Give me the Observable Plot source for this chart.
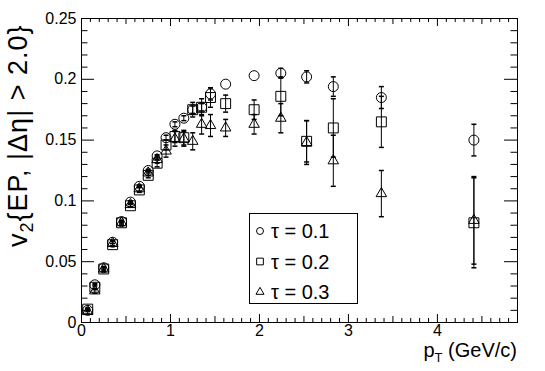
<!DOCTYPE html>
<html><head><meta charset="utf-8">
<script src="https://cdn.jsdelivr.net/npm/d3@7"></script>
<script src="https://cdn.jsdelivr.net/npm/@observablehq/plot@0.6"></script>
<style>
body{margin:0;background:#fff;}
#chart{position:relative;width:545px;height:371px;}
#chart svg{display:block;}
</style>
</head><body><div id="chart"></div>
<script>
// pT bin centres (GeV/c)
const pT = [0.07, 0.15, 0.25, 0.35, 0.45, 0.55, 0.65, 0.75, 0.85, 0.95, 1.05, 1.15, 1.25, 1.35, 1.45, 1.62, 1.94, 2.24, 2.53, 2.83, 3.37, 4.41];
// tau = 0.1 (circles)
const v2Tau01  = [0.010, 0.031, 0.045, 0.066, 0.083, 0.099, 0.112, 0.125, 0.137, 0.152, 0.163, 0.168, 0.175, 0.177, 0.188, 0.196, 0.203, 0.205, 0.202, 0.194, 0.185, 0.150];
const errTau01 = [0.001, 0.001, 0.001, 0.001, 0.001, 0.001, 0.001, 0.001, 0.001, 0.002, 0.002, 0.002, 0.003, 0.003, 0.005, 0.000, 0.000, 0.004, 0.005, 0.008, 0.009, 0.013];
// tau = 0.2 (squares)
const v2Tau02  = [0.011, 0.029, 0.044, 0.064, 0.082, 0.096, 0.109, 0.121, 0.131, 0.146, 0.153, 0.152, 0.175, 0.177, 0.185, 0.180, 0.175, 0.186, 0.149, 0.160, 0.165, 0.082];
const errTau02 = [0.001, 0.002, 0.001, 0.001, 0.001, 0.001, 0.002, 0.002, 0.003, 0.004, 0.005, 0.006, 0.006, 0.007, 0.008, 0.007, 0.008, 0.016, 0.017, 0.024, 0.021, 0.037];
// tau = 0.3 (triangles)
const v2Tau03  = [0.009, 0.026, 0.044, 0.065, 0.082, 0.097, 0.110, 0.123, 0.134, 0.141, 0.151, 0.151, 0.149, 0.163, 0.162, 0.160, 0.163, 0.168, 0.148, 0.133, 0.106, 0.084];
const errTau03 = [0.002, 0.002, 0.002, 0.002, 0.002, 0.002, 0.002, 0.002, 0.003, 0.005, 0.006, 0.006, 0.007, 0.008, 0.009, 0.007, 0.008, 0.012, 0.018, 0.021, 0.019, 0.036];

const seriesLabels = ["τ = 0.1", "τ = 0.2", "τ = 0.3"];
const xTickValues = [0, 1, 2, 3, 4];
const xMidTicks = [0.5, 1.5, 2.5, 3.5, 4.5];
const yTickValues = [0, 0.05, 0.1, 0.15, 0.2, 0.25];

const W = 545, H = 371, mL = 81, mR = 28, mT = 18, mB = 49;
const fw = W - mL - mR, fh = H - mT - mB;

const series = [
  {label: seriesLabels[0], v: v2Tau01, e: errTau01, symbol: "circle", r: 5},
  {label: seriesLabels[1], v: v2Tau02, e: errTau02, symbol: "square", r: 5.6},
  {label: seriesLabels[2], v: v2Tau03, e: errTau03, symbol: "triangle", r: 3.9}
];
const rows = series.flatMap(s => pT.map((x, i) => ({x, v: s.v[i], e: s.e[i], s: s.label})));
const errRows = rows.filter(d => d.e > 0);

const xMinor = d3.range(1, 49).map(i => i / 10).filter(d => Math.abs(d * 2 - Math.round(d * 2)) > 1e-6);
const yMinor = d3.range(1, 25).map(i => i / 100).filter(d => Math.abs(d * 20 - Math.round(d * 20)) > 1e-6);

const cap = {draw(ctx) { ctx.moveTo(-2.5, 0); ctx.lineTo(2.5, 0); }};

const marks = [
  Plot.tickX(xTickValues, {x: d => d, insetTop: fh - 8, stroke: "black"}),
  Plot.tickX(xTickValues, {x: d => d, insetBottom: fh - 8, stroke: "black"}),
  Plot.tickX(xMidTicks, {x: d => d, insetTop: fh - 6, stroke: "black"}),
  Plot.tickX(xMidTicks, {x: d => d, insetBottom: fh - 6, stroke: "black"}),
  Plot.tickX(xMinor, {x: d => d, insetTop: fh - 4, stroke: "black"}),
  Plot.tickX(xMinor, {x: d => d, insetBottom: fh - 4, stroke: "black"}),
  Plot.tickY(yTickValues, {y: d => d, insetRight: fw - 13, stroke: "black"}),
  Plot.tickY(yTickValues, {y: d => d, insetLeft: fw - 13, stroke: "black"}),
  Plot.tickY(yMinor, {y: d => d, insetRight: fw - 6.5, stroke: "black"}),
  Plot.tickY(yMinor, {y: d => d, insetLeft: fw - 6.5, stroke: "black"}),
  Plot.frame({stroke: "black"}),
  Plot.axisX(xTickValues, {tickSize: 0, tickPadding: 2, fontSize: 16, label: null, tickFormat: d => String(d)}),
  Plot.axisY(yTickValues, {tickSize: 0, tickPadding: 5, fontSize: 16, label: null, tickFormat: d => String(d)}),
  Plot.ruleX(errRows, {x: "x", y1: d => d.v - d.e, y2: d => d.v + d.e, stroke: "black", strokeWidth: 1}),
  Plot.dot(errRows, {x: "x", y: d => d.v - d.e, symbol: cap, stroke: "black", fill: "none"}),
  Plot.dot(errRows, {x: "x", y: d => d.v + d.e, symbol: cap, stroke: "black", fill: "none"}),
  ...series.map(s => Plot.dot(rows.filter(d => d.s === s.label), {x: "x", y: "v", symbol: s.symbol, r: s.r, stroke: "black", fill: "none", strokeWidth: 1}))
];

const plot = Plot.plot({
  width: W, height: H,
  marginLeft: mL, marginRight: mR, marginTop: mT, marginBottom: mB,
  x: {domain: [0, 4.9]},
  y: {domain: [0, 0.25]},
  style: {fontFamily: "'Liberation Sans', Arial, sans-serif", fontSize: "16px", color: "black", background: "white"},
  marks
});
document.getElementById("chart").appendChild(plot);

const svg = d3.select(plot);
const font = "'Liberation Sans', Arial, sans-serif";
const yt = svg.append("text")
  .attr("transform", "translate(26.5,247) rotate(-90)")
  .attr("text-anchor", "start")
  .attr("font-family", font).attr("font-size", 27).attr("letter-spacing", 1).attr("fill", "black");
yt.append("tspan").text("v");
yt.append("tspan").attr("font-size", 18).attr("dy", 6).text("2");
yt.append("tspan").attr("dy", -6).text("{EP, |Δη| > 2.0}");
const xt = svg.append("text")
  .attr("x", 517).attr("y", 357)
  .attr("text-anchor", "end")
  .attr("font-family", font).attr("font-size", 20).attr("fill", "black");
xt.append("tspan").text("p");
xt.append("tspan").attr("font-size", 13).attr("dy", 5).text("T");
xt.append("tspan").attr("dy", -5).text(" (GeV/c)");

const lg = svg.append("g");
lg.append("rect").attr("x", 249.5).attr("y", 213.5).attr("width", 108).attr("height", 90)
  .attr("fill", "white").attr("stroke", "black");
const symTypes = {circle: d3.symbolCircle, square: d3.symbolSquare, triangle: d3.symbolTriangle};
const lgSizes = {circle: 38, square: 45, triangle: 28};
series.forEach((s, i) => {
  const cy = 231 + i * 30.5;
  lg.append("path").attr("transform", `translate(260,${cy})`)
    .attr("d", d3.symbol(symTypes[s.symbol], lgSizes[s.symbol])())
    .attr("fill", "none").attr("stroke", "black");
  lg.append("text").attr("x", 271).attr("y", cy + 7).attr("text-anchor", "start")
    .attr("font-family", font).attr("font-size", 20).attr("fill", "black").text(s.label);
});
</script>
</body></html>
